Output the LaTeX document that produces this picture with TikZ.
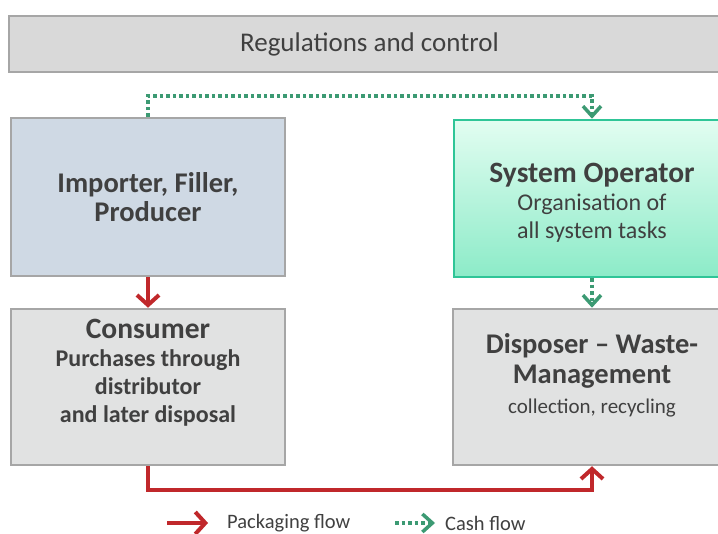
\documentclass[tikz,border=0pt]{standalone}
\usepackage{fontspec}
\setmainfont{Carlito}
\usetikzlibrary{arrows.meta,positioning}
\definecolor{boxgray}{HTML}{E1E2E2}
\definecolor{titlegray}{HTML}{D9D9D9}
\definecolor{edgegray}{HTML}{A6A6A6}
\definecolor{impblue}{HTML}{CFD9E4}
\definecolor{optop}{HTML}{E2FDF1}
\definecolor{opbot}{HTML}{8CEBC8}
\definecolor{opedge}{HTML}{2FC597}
\definecolor{packred}{HTML}{C0282B}
\definecolor{cashgreen}{HTML}{3C9A73}
\definecolor{txtgray}{HTML}{404040}
\newcommand{\boxhead}[1]{{\fontsize{29.5}{31}\selectfont\bfseries #1}}
\begin{document}
\begin{tikzpicture}[x=1pt,y=-1pt,
    box/.style={draw=edgegray, line width=2.5pt, minimum width=274pt, minimum height=156pt, inner sep=0pt},
    boxtext/.style={text=txtgray, align=center, inner sep=0pt},
    legtext/.style={text=txtgray, inner sep=0pt, anchor=west, font=\fontsize{20.5}{24}\selectfont},
    pack/.style={draw=packred, line width=4pt, -{Straight Barb[length=10pt,width=22pt]}},
    cash/.style={draw=cashgreen, line width=3.5pt, dash pattern=on 3.5pt off 3pt, -{Straight Barb[length=10pt,width=18pt]}}]
            \path[use as bounding box, clip] (0,0) rectangle (718,534);
            % boxes
            \node[box, fill=titlegray, minimum width=721pt, minimum height=56pt, text=txtgray, font=\fontsize{27}{30}\selectfont] (reg) at (369.5,44) {Regulations and control};
            \node[box, fill=impblue, minimum height=158pt] (imp) at (148,197) {};
            \node[box, fill=boxgray] (cons) at (148,387) {};
            \node[box, draw=opedge, top color=optop, bottom color=opbot, minimum width=276pt, minimum height=157pt] (sysop) at (592,198.5) {};
            \node[box, fill=boxgray, minimum width=278pt] (disp) at (592,387) {};
            % texts
            \node[boxtext, font=\fontsize{28.5}{29}\selectfont\bfseries] (imptxt) at (imp) {Importer, Filler,\\Producer};
            \node[boxtext, yshift=14pt, font=\fontsize{24}{28}\selectfont\bfseries] (constxt) at (cons) {\boxhead{Consumer}\\Purchases through\\distributor\\and later disposal};
            \node[boxtext, yshift=-4pt, font=\fontsize{24}{28}\selectfont] (sysoptxt) at (sysop) {\boxhead{System Operator}\\Organisation of\\all system tasks};
            \node[boxtext, yshift=12pt, font=\fontsize{21}{30}\selectfont] (disptxt) at (disp) {{\fontsize{28.5}{30}\selectfont\bfseries Disposer – Waste-}\\{\fontsize{28.5}{30}\selectfont\bfseries Management}\\collection, recycling};
            % flows
            \coordinate (cashtop) at (148,96);
            \coordinate (packbot) at (148,490);
            \draw[cash] (imp.north) -- (cashtop) -| (sysop.north);
            \draw[cash] (sysop.south) -- (disp.north);
            \draw[pack] (imp.south) -- (cons.north);
            \draw[pack] (cons.south) -- (packbot) -| (disp.south);
            % legend
            \coordinate (packa) at (167,523);
            \coordinate (packb) at (208,523);
            \coordinate (casha) at (395,523);
            \coordinate (cashb) at (435,523);
            \draw[pack] (packa) -- (packb);
            \node[legtext] (packlab) at (227,523) {Packaging flow};
            \draw[cash] (casha) -- (cashb);
            \node[legtext] (cashlab) at (445,523) {Cash flow};
        \end{tikzpicture}
\end{document}
